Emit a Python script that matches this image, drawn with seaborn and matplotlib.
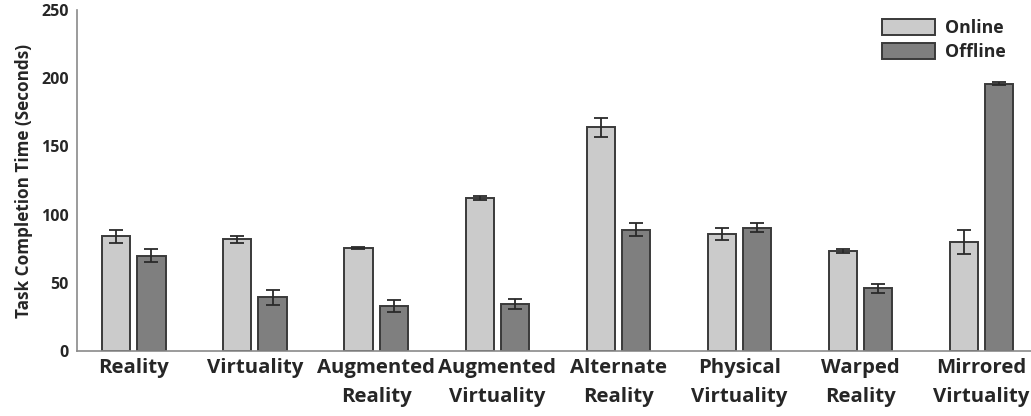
import matplotlib
matplotlib.use("Agg")
import matplotlib.pyplot as plt
import seaborn as sns
import pandas as pd
import numpy as np

categories = ["Reality", "Virtuality", "Augmented\nReality", "Augmented\nVirtuality",
              "Alternate\nReality", "Physical\nVirtuality", "Warped\nReality", "Mirrored\nVirtuality"]
online_mean = [84, 82, 75.5, 112, 164, 86, 73.5, 80]
online_err = [4.5, 2.5, 0.8, 1.5, 7, 4.3, 1.6, 8.5]
offline_mean = [70, 39.5, 33, 34.5, 89, 90.5, 46, 196]
offline_err = [4.5, 5.5, 4.2, 3.6, 4.8, 3.3, 3.5, 1]
conditions = ["Online", "Offline"]
y_ticks = [0, 50, 100, 150, 200, 250]

sns.set_theme(style="white")
plt.rcParams["font.family"] = ["Open Sans", "DejaVu Sans"]
plt.rcParams["font.weight"] = "bold"

df = pd.DataFrame({
    "category": categories * 2,
    "condition": [conditions[0]] * len(categories) + [conditions[1]] * len(categories),
    "value": online_mean + offline_mean,
    "err": online_err + offline_err,
})

fig = plt.figure(figsize=(10.31, 4.16), dpi=100)
ax = fig.add_axes([0.0747, 0.156, 0.9253, 0.82])

palette = {"Online": "#cbcbcb", "Offline": "#7f7f7f"}
sns.barplot(data=df, x="category", y="value", hue="condition", order=categories,
            hue_order=conditions, palette=palette, errorbar=None, width=0.58, gap=0.2,
            edgecolor="#3a3a3a", linewidth=1.4, saturation=1, ax=ax)

# error bars at the centre of each drawn bar
for cont, cond in zip(ax.containers, conditions):
    sub = df[df["condition"] == cond].set_index("category").loc[categories]
    xs = [p.get_x() + p.get_width() / 2 for p in cont.patches]
    hs = [p.get_height() for p in cont.patches]
    ax.errorbar(xs, hs, yerr=sub["err"].values, fmt="none", ecolor="#2a2a2a",
                elinewidth=1.3, capsize=5, capthick=1.3, zorder=5)

ax.set_ylim(0, 250)
ax.set_xlim(-0.47, 7.41)
ax.set_yticks(y_ticks)
ax.set_yticklabels([str(t) for t in y_ticks], fontsize=11.5, fontweight="bold")
ax.set_xticks(range(len(categories)))
ax.set_xticklabels(categories, fontsize=14.7, fontweight="bold", linespacing=1.6)
ax.set_xlabel("")
ax.set_ylabel("Task Completion Time (Seconds)", fontsize=12.3, fontweight="bold", labelpad=6)

for side in ["top", "right"]:
    ax.spines[side].set_visible(False)
for side in ["left", "bottom"]:
    ax.spines[side].set_color("#8a8a8a")
    ax.spines[side].set_linewidth(1.2)

ax.tick_params(axis="y", direction="in", length=6, width=1, color="#8a8a8a", pad=6)
ax.tick_params(axis="x", direction="in", length=4, width=1, color="#8a8a8a", pad=5)

handles, labels = ax.get_legend_handles_labels()
ax.legend(handles, labels, loc="upper left", bbox_to_anchor=(0.855, 0.955),
          bbox_transform=fig.transFigure, frameon=False,
          prop={"size": 12.8, "weight": "bold"}, handlelength=3.0, handleheight=1.0,
          handletextpad=0.56, labelspacing=0.34, borderaxespad=0, borderpad=0)

fig.savefig("out.png", dpi=100)
